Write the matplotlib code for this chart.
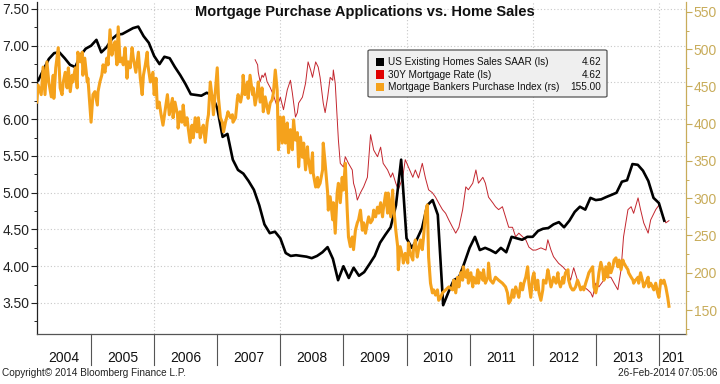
import matplotlib
matplotlib.use("Agg")
import matplotlib.pyplot as plt
import matplotlib.transforms as mtransforms
from matplotlib.patches import FancyBboxPatch, Rectangle
from matplotlib.ticker import MultipleLocator, FormatStrFormatter
import numpy as np
import pandas as pd

plt.rcParams["font.family"] = ["Liberation Sans", "DejaVu Sans"]

TITLE = "Mortgage Purchase Applications vs. Home Sales"
LEGEND_LABELS = [
    "US Existing Homes Sales SAAR (ls)",
    "30Y Mortgage Rate (ls)",
    "Mortgage Bankers Purchase Index (rs)",
]
YEAR_LABELS = ["2004", "2005", "2006", "2007", "2008", "2009",
               "2010", "2011", "2012", "2013", "201"]
YEAR_STARTS = list(range(2004, 2015))

# US existing home sales SAAR (millions), monthly Feb 2004 .. Jan 2014
home_sales = [
    6.53, 6.68, 6.82, 6.90, 6.91, 6.83, 6.74, 6.71, 6.87, 6.96, 7.00, 7.08,
    6.91, 6.98, 7.09, 7.15, 7.16, 7.20, 7.24, 7.26, 7.13, 7.04, 6.86, 6.75,
    6.85, 6.83, 6.71, 6.60, 6.48, 6.34, 6.33, 6.32, 6.36, 6.33, 6.15, 5.76,
    5.80, 5.45, 5.31, 5.26, 5.16, 5.04, 4.83, 4.57, 4.45, 4.47, 4.38, 4.18,
    4.14, 4.15, 4.14, 4.13, 4.11, 4.14, 4.19, 4.26, 4.10, 3.81, 4.00, 3.84,
    3.98, 3.87, 3.92, 4.03, 4.14, 4.32, 4.43, 4.53, 4.83, 5.45, 4.38, 4.25,
    4.36, 4.52, 4.83, 4.90, 4.70, 3.47, 3.65, 3.81, 3.85, 4.04, 4.25, 4.40,
    4.22, 4.25, 4.22, 4.18, 4.25, 4.19, 4.40, 4.38, 4.36, 4.40, 4.40, 4.48,
    4.51, 4.52, 4.57, 4.60, 4.53, 4.62, 4.74, 4.81, 4.77, 4.93, 4.90, 4.91,
    4.94, 4.97, 5.00, 5.15, 5.17, 5.39, 5.38, 5.30, 5.16, 4.93, 4.86, 4.62,
]

# 30Y mortgage rate (%), dates as decimal years
rate_t = [
    2007.60, 2007.64, 2007.65, 2007.68, 2007.71, 2007.73, 2007.76, 2007.79, 2007.84, 2007.89, 2007.95,
    2008.00, 2008.05, 2008.11, 2008.16, 2008.19, 2008.24, 2008.27, 2008.29, 2008.35, 2008.40,
    2008.44, 2008.48, 2008.51, 2008.56, 2008.60, 2008.63, 2008.68, 2008.71, 2008.75, 2008.79,
    2008.83, 2008.84, 2008.87, 2008.90, 2008.92, 2008.95,
    2009.00, 2009.03, 2009.08, 2009.14, 2009.16, 2009.19, 2009.22, 2009.27, 2009.32, 2009.38,
    2009.43, 2009.48, 2009.54, 2009.59, 2009.63, 2009.70, 2009.75, 2009.78, 2009.83, 2009.87,
    2009.94, 2009.98,
    2010.03, 2010.10, 2010.14, 2010.19, 2010.25, 2010.30, 2010.35, 2010.41, 2010.46, 2010.51,
    2010.57, 2010.62, 2010.67, 2010.73, 2010.78, 2010.83, 2010.89, 2010.94, 2010.98,
    2011.05, 2011.10, 2011.14, 2011.21, 2011.25, 2011.30, 2011.37, 2011.41, 2011.46, 2011.52,
    2011.57, 2011.62, 2011.68, 2011.73, 2011.78, 2011.84, 2011.89, 2011.94,
    2012.00, 2012.05, 2012.13, 2012.21, 2012.24, 2012.29, 2012.33, 2012.41, 2012.48, 2012.56,
    2012.60, 2012.65, 2012.71, 2012.76, 2012.81, 2012.87, 2012.92, 2012.95,
    2013.00, 2013.05, 2013.11, 2013.16, 2013.24, 2013.29, 2013.35, 2013.40, 2013.44, 2013.51,
    2013.56, 2013.60, 2013.67, 2013.71, 2013.76, 2013.83, 2013.87, 2013.95,
    2014.00, 2014.06, 2014.11, 2014.16,
]
rate_v = [
    6.81, 6.74, 6.64, 6.51, 6.60, 6.57, 6.63, 6.51, 6.43, 6.33, 6.17,
    6.30, 6.13, 6.40, 6.53, 6.36, 6.03, 6.09, 6.22, 6.30, 6.49,
    6.78, 6.67, 6.57, 6.78, 6.71, 6.57, 6.22, 6.09, 6.30, 6.57,
    6.53, 6.67, 6.49, 6.03, 5.72, 5.40,
    5.35, 5.49, 5.40, 5.31, 5.13, 5.04, 4.90, 5.00, 5.08, 5.21,
    5.79, 5.58, 5.49, 5.62, 5.40, 5.31, 5.21, 5.27, 5.13, 5.04,
    5.21, 5.45,
    5.35, 5.21, 5.31, 5.20, 5.40, 5.20, 5.04, 5.00, 4.94, 4.86,
    4.77, 4.72, 4.63, 4.53, 4.45, 4.53, 4.77, 5.08, 5.04,
    5.13, 5.31, 5.13, 5.21, 5.13, 4.94, 4.86, 4.81, 4.77, 4.81,
    4.67, 4.53, 4.53, 4.40, 4.45, 4.40, 4.36, 4.26,
    4.22, 4.22, 4.25, 4.22, 4.36, 4.22, 4.13, 4.04, 3.99, 3.91,
    3.81, 3.98, 3.81, 3.68, 3.72, 3.68, 3.64, 3.58,
    3.77, 3.72, 3.79, 3.85, 3.85, 3.77, 3.68, 3.95, 4.40, 4.77,
    4.81, 4.72, 4.93, 4.77, 4.59, 4.45, 4.63, 4.77,
    4.83, 4.70, 4.59, 4.62,
]

# MBA purchase index, dates as decimal years
mba_t = [
    2004.14, 2004.16, 2004.21, 2004.24, 2004.27, 2004.30, 2004.33, 2004.37, 2004.40, 2004.41,
    2004.44, 2004.48, 2004.51, 2004.54, 2004.56, 2004.59, 2004.62, 2004.64, 2004.67, 2004.70,
    2004.71, 2004.75, 2004.78, 2004.79, 2004.83, 2004.86, 2004.87, 2004.90, 2004.94, 2004.95,
    2005.00, 2005.03, 2005.06, 2005.10, 2005.11, 2005.14, 2005.17, 2005.19, 2005.22, 2005.25,
    2005.27, 2005.30, 2005.33, 2005.35, 2005.38, 2005.41, 2005.43, 2005.46, 2005.49, 2005.51,
    2005.54, 2005.57, 2005.59, 2005.62, 2005.65, 2005.67, 2005.71, 2005.75, 2005.78, 2005.81,
    2005.83, 2005.86, 2005.89, 2005.90, 2005.94, 2005.98,
    2006.00, 2006.03, 2006.05, 2006.08, 2006.11, 2006.14, 2006.17, 2006.21, 2006.24, 2006.29,
    2006.30, 2006.33, 2006.37, 2006.38, 2006.41, 2006.44, 2006.46, 2006.49, 2006.52, 2006.54,
    2006.57, 2006.60, 2006.62, 2006.65, 2006.68, 2006.70, 2006.73, 2006.76, 2006.78, 2006.81,
    2006.84, 2006.86, 2006.89, 2006.92, 2006.94, 2006.97,
    2007.00, 2007.02, 2007.05, 2007.08, 2007.10, 2007.13, 2007.16, 2007.17, 2007.21, 2007.24,
    2007.25, 2007.29, 2007.32, 2007.33, 2007.37, 2007.40, 2007.41, 2007.44, 2007.48, 2007.49,
    2007.52, 2007.56, 2007.57, 2007.60, 2007.63, 2007.65, 2007.68, 2007.71, 2007.73, 2007.76,
    2007.79, 2007.81, 2007.84, 2007.87, 2007.89, 2007.92, 2007.95, 2007.97,
    2008.00, 2008.03, 2008.05, 2008.08, 2008.11, 2008.13, 2008.16, 2008.19, 2008.21, 2008.24,
    2008.27, 2008.29, 2008.32, 2008.35, 2008.37, 2008.40, 2008.43, 2008.44, 2008.48, 2008.51,
    2008.52, 2008.56, 2008.59, 2008.60, 2008.63, 2008.67, 2008.68, 2008.71, 2008.75, 2008.76,
    2008.79, 2008.83, 2008.84, 2008.87, 2008.90, 2008.92, 2008.95, 2008.98,
    2009.00, 2009.03, 2009.06, 2009.08, 2009.11, 2009.14, 2009.16, 2009.19, 2009.22, 2009.24,
    2009.27, 2009.30, 2009.32, 2009.35, 2009.38, 2009.40, 2009.43, 2009.46, 2009.48, 2009.51,
    2009.54, 2009.56, 2009.59, 2009.62, 2009.63, 2009.67, 2009.70, 2009.71, 2009.75, 2009.78,
    2009.79, 2009.83, 2009.86, 2009.87, 2009.90, 2009.94, 2009.95, 2009.98,
    2010.02, 2010.03, 2010.06, 2010.10, 2010.11, 2010.14, 2010.17, 2010.19, 2010.22, 2010.25,
    2010.27, 2010.30, 2010.33, 2010.35, 2010.38, 2010.41, 2010.43, 2010.46, 2010.49, 2010.51,
    2010.54, 2010.57, 2010.62, 2010.67, 2010.73, 2010.75, 2010.78, 2010.81, 2010.83, 2010.86,
    2010.89, 2010.90, 2010.94, 2010.97, 2010.98,
    2011.02, 2011.05, 2011.06, 2011.10, 2011.13, 2011.14, 2011.17, 2011.21, 2011.22, 2011.25,
    2011.29, 2011.30, 2011.33, 2011.37, 2011.41, 2011.46, 2011.52, 2011.57, 2011.60, 2011.62,
    2011.65, 2011.68, 2011.70, 2011.73, 2011.76, 2011.78, 2011.81, 2011.84, 2011.86, 2011.89,
    2011.92, 2011.94, 2011.97,
    2012.00, 2012.02, 2012.05, 2012.08, 2012.10, 2012.13, 2012.16, 2012.17, 2012.21, 2012.24,
    2012.25, 2012.29, 2012.32, 2012.33, 2012.37, 2012.40, 2012.41, 2012.44, 2012.48, 2012.49,
    2012.52, 2012.56, 2012.57, 2012.60, 2012.63, 2012.65, 2012.68, 2012.71, 2012.73, 2012.76,
    2012.79, 2012.81, 2012.84, 2012.87, 2012.89, 2012.92, 2012.95, 2012.97,
    2013.00, 2013.03, 2013.05, 2013.08, 2013.11, 2013.13, 2013.16, 2013.19, 2013.21, 2013.24,
    2013.27, 2013.29, 2013.32, 2013.35, 2013.37, 2013.40, 2013.43, 2013.44, 2013.48, 2013.51,
    2013.52, 2013.56, 2013.59, 2013.60, 2013.63, 2013.67, 2013.68, 2013.71, 2013.75, 2013.76,
    2013.79, 2013.83, 2013.84, 2013.87, 2013.90, 2013.92, 2013.95, 2013.98,
    2014.00, 2014.03, 2014.06, 2014.08, 2014.11, 2014.14, 2014.16,
]
mba_v = [
    429, 452, 439, 476, 439, 483, 456, 436, 465, 434,
    475, 502, 448, 439, 456, 469, 448, 475, 443, 465,
    456, 475, 448, 496, 483, 496, 465, 488, 456, 461,
    402, 439, 443, 425, 443, 456, 465, 479, 469, 488,
    479, 526, 492, 502, 510, 479, 530, 483, 488, 479,
    502, 461, 483, 475, 502, 488, 469, 496, 461, 439,
    465, 479, 496, 479, 456, 469,
    439, 461, 421, 429, 412, 398, 416, 439, 412, 434,
    408, 429, 412, 394, 416, 402, 425, 398, 408, 394,
    375, 398, 381, 408, 389, 408, 381, 394, 398, 375,
    402, 412, 456, 434, 412, 443,
    475, 434, 408, 402, 389, 402, 412, 416, 408, 412,
    402, 408, 434, 439, 429, 443, 465, 439, 456, 434,
    465, 439, 448, 425, 439, 456, 429, 448, 416, 436,
    422, 414, 428, 432, 441, 472, 445, 365,
    409, 374, 409, 374, 401, 361, 392, 365, 405, 378,
    388, 342, 382, 355, 374, 338, 369, 355, 334, 361,
    334, 315, 328, 315, 320, 338, 374, 347, 307, 284,
    302, 271, 294, 253, 307, 320, 294, 328,
    311, 347, 284, 248, 235, 248, 231, 257, 267, 271,
    284, 257, 267, 253, 267, 275, 267, 271, 284, 275,
    288, 280, 294, 275, 284, 307, 280, 307, 275, 311,
    294, 257, 235, 204, 235, 221, 213, 226,
    213, 240, 226, 217, 231, 244, 221, 231, 244, 231,
    248, 280, 291, 221, 186, 173, 177, 170, 177, 163,
    167, 173, 177, 181, 177, 190, 173, 194, 181, 200,
    190, 208, 194, 204, 186,
    200, 181, 194, 186, 204, 186, 200, 190, 204, 186,
    194, 213, 190, 186, 194, 190, 186, 181, 173, 159,
    163, 177, 167, 181, 173, 167, 186, 177, 186, 194,
    208, 186, 167,
    194, 200, 177, 190, 173, 163, 177, 190, 186, 204,
    200, 181, 190, 194, 186, 200, 190, 181, 194, 186,
    200, 204, 190, 181, 177, 177, 181, 190, 186, 177,
    181, 177, 186, 194, 200, 204, 208, 181,
    173, 186, 200, 214, 204, 190, 208, 194, 213, 200,
    208, 217, 220, 208, 217, 204, 217, 214, 208, 204,
    200, 194, 190, 186, 190, 194, 186, 200, 186, 181,
    186, 194, 181, 186, 181, 177, 186, 173,
    167, 190, 186, 190, 181, 167, 155,
]

BLACK = "#000000"
RED = "#c3262e"
ORANGE = "#f5a21c"
GOLD = "#c8ac5a"
GRID = "#c8c8c8"

W, H = 720, 384
fig = plt.figure(figsize=(W / 100, H / 100), dpi=100)
fig.patch.set_facecolor("white")


def fx(px):
    return px / W


def fy(py):
    return 1 - py / H


# plot area in pixels: x 37..686, y 2..334
ax = fig.add_axes([fx(37), fy(334), fx(686 - 37), (334 - 2) / H])
ax2 = ax.twinx()

sales_dates = pd.date_range("2004-02-29", periods=len(home_sales), freq="ME")
sales_t = sales_dates.year + sales_dates.dayofyear / np.where(sales_dates.is_leap_year, 366, 365)

ax.plot(sales_t, home_sales, color=BLACK, lw=1.9, zorder=3, solid_joinstyle="round")
ax.plot(rate_t, rate_v, color=RED, lw=0.7, zorder=2)
ax2.plot(mba_t, mba_v, color=ORANGE, lw=2.2, zorder=3, solid_joinstyle="round")

ax.set_xlim(2004.143, 2014.43)
ax.set_ylim(3.078, 7.595)
ax2.set_ylim(117.8, 563.3)

# left axis
ax.yaxis.set_major_locator(MultipleLocator(0.5))
ax.yaxis.set_minor_locator(MultipleLocator(0.25))
ax.yaxis.set_major_formatter(FormatStrFormatter("%.2f"))
ax.tick_params(axis="y", which="major", length=4, width=0.8, labelsize=10, pad=1.5,
               colors="#222222")
ax.tick_params(axis="y", which="minor", length=2.2, width=0.7, colors="#222222")
ax.set_xticks([])
ax.grid(axis="y", which="major", ls=(0, (1, 2)), color=GRID, lw=0.8)
for yr in [2006, 2008, 2010, 2012, 2014]:
    ax.axvline(yr, ls=(0, (1, 2)), color=GRID, lw=0.8, zorder=0)

# right axis
ax2.yaxis.set_major_locator(MultipleLocator(50))
ax2.yaxis.set_minor_locator(MultipleLocator(25))
ax2.tick_params(axis="y", which="major", length=4, width=0.8, labelsize=10, pad=1.5,
                colors=GOLD)
ax2.tick_params(axis="y", which="minor", length=2.2, width=0.7, colors=GOLD)

for a in (ax, ax2):
    a.spines["top"].set_visible(False)
ax.spines["right"].set_visible(False)
ax2.spines["left"].set_visible(False)
ax2.spines["bottom"].set_visible(False)
ax2.spines["right"].set_color(GOLD)
ax.spines["left"].set_color("#222222")
ax.spines["bottom"].set_color("#555555")
ax.spines["left"].set_linewidth(0.9)
ax.spines["bottom"].set_linewidth(0.9)
ax2.spines["right"].set_linewidth(0.9)

# year separators and labels below the axis
trans = mtransforms.blended_transform_factory(ax.transData, ax.transAxes)
x0, x1 = ax.get_xlim()
for yr, lab in zip(YEAR_STARTS, YEAR_LABELS):
    if yr > x0:
        ax.plot([yr, yr], [0, -0.0934], transform=trans, color="#555555", lw=0.8,
                clip_on=False)
    lo, hi = max(yr, x0), min(yr + 1, x1)
    ax.text((lo + hi) / 2, -0.0723, lab, transform=trans, ha="center", va="center",
            fontsize=10, color="#111111")

fig.text(fx(364.5), fy(12), TITLE, ha="center", va="center", fontsize=10.5,
         fontweight="bold", color="#111111")

# legend box
lx0, ly0, lx1, ly1 = 368, 50, 607, 97
fig.add_artist(FancyBboxPatch((fx(lx0), fy(ly1)), fx(lx1 - lx0), (ly1 - ly0) / H,
                              boxstyle="round,pad=0,rounding_size=0.003",
                              transform=fig.transFigure, fc="#efefef", ec="#555555",
                              lw=0.9, zorder=5))
last_vals = [home_sales[-1], rate_v[-1], mba_v[-1]]
for i, (lab, col, val) in enumerate(zip(LEGEND_LABELS, [BLACK, "#e00000", ORANGE], last_vals)):
    ry = 62 + i * 12.5
    fig.add_artist(Rectangle((fx(376), fy(ry + 4)), fx(8), 8 / H, transform=fig.transFigure,
                             fc=col, ec="none", zorder=6))
    fig.text(fx(388), fy(ry), lab, ha="left", va="center", fontsize=7.2, color="#111111",
             zorder=7)
    fig.text(fx(601), fy(ry), f"{val:.2f}", ha="right", va="center", fontsize=7.2,
             color="#111111", zorder=7)

fig.text(fx(2), fy(373), "Copyright\u00a9 2014 Bloomberg Finance L.P.", ha="left",
         va="center", fontsize=7.2, color="#222222")
fig.text(fx(717), fy(373), "26-Feb-2014 07:05:06", ha="right", va="center",
         fontsize=7.2, color="#222222")

fig.savefig("out.png", dpi=100)
